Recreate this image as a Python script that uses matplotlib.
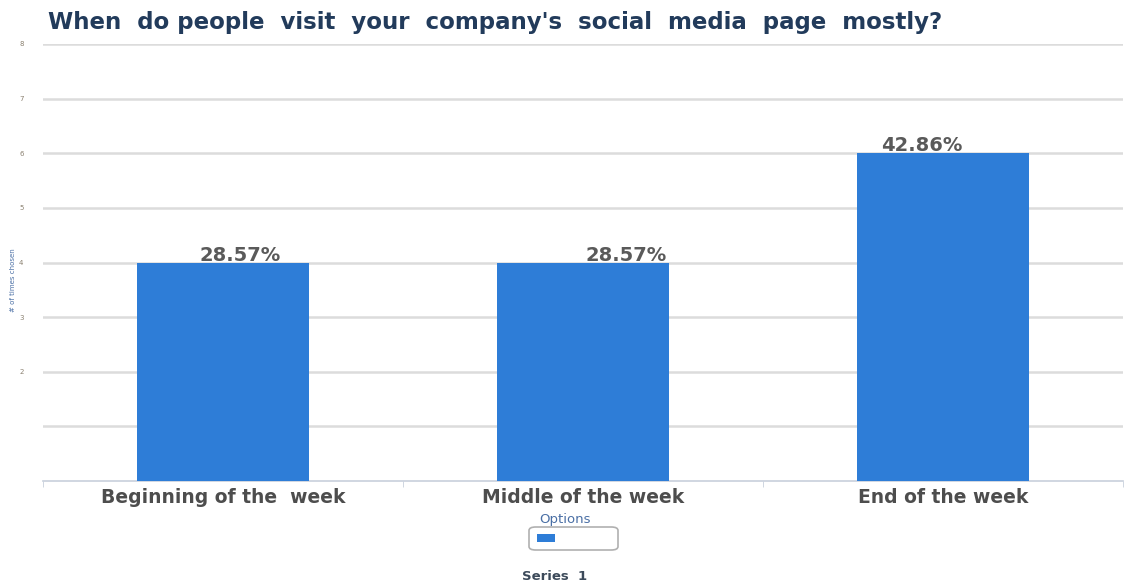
import matplotlib.pyplot as plt
from matplotlib.patches import FancyBboxPatch, Rectangle

# ----------------------------------------------------------------------------------------------------------------------
#  DATA
# ----------------------------------------------------------------------------------------------------------------------
categories = ['Beginning of the  week', 'Middle of the week', 'End of the week']
times_chosen = [4, 4, 6]
percent_labels = ['28.57%', '28.57%', '42.86%']
y_ticks = [2, 3, 4, 5, 6, 7, 8]

title = "When  do people  visit  your  company's  social  media  page  mostly?"

# ----------------------------------------------------------------------------------------------------------------------
#  PLOT
# ----------------------------------------------------------------------------------------------------------------------
plt.rcParams['font.family'] = ['DejaVu Sans']

fig = plt.figure(figsize=(11.27, 5.84), dpi=100)
ax = fig.add_axes([43/1127, 1 - 481/584, 1080/1127, 437/584])

bar_color = '#2e7dd7'
x = range(len(categories))
ax.bar(x, times_chosen, width=0.48, color=bar_color, zorder=3)

# value labels sit a little off-centre above each bar
label_shift = [0.047, 0.12, -0.058]
for xi, val, lab, dx in zip(x, times_chosen, percent_labels, label_shift):
    ax.text(xi + dx, val - 0.04, lab, ha='center', va='bottom', fontsize=14,
            fontweight='bold', color='#5a5a5a', zorder=4)

ax.set_xlim(-0.5, len(categories) - 0.5)
ax.set_ylim(0, 8)

# horizontal grid
for g in range(1, 9):
    ax.axhline(g, color='#dcdcdc', linewidth=1.8, zorder=1)

ax.set_yticks(y_ticks)
ax.set_yticklabels([str(t) for t in y_ticks], fontsize=5, color='#8a8070')
ax.tick_params(axis='y', length=0, pad=14)

ax.set_xticks([i - 0.5 for i in range(len(categories))] + [len(categories) - 0.5], minor=True)
ax.set_xticks(list(x))
ax.set_xticklabels(categories, fontsize=13.5, fontweight='bold', color='#4d4d4d')
ax.tick_params(axis='x', which='major', length=0, pad=5)
ax.tick_params(axis='x', which='minor', length=4, color='#c8d0dc')

for side in ['top', 'right', 'left']:
    ax.spines[side].set_visible(False)
ax.spines['bottom'].set_color('#c8d0dc')
ax.spines['bottom'].set_linewidth(1.2)

# titles and axis names
fig.text(48/1127, 1 - 23/584, title, fontsize=16.5, fontweight='bold',
         color='#223b5b', va='center', ha='left')
fig.text(13/1127, 1 - 280/584, '# of times chosen', rotation=90, fontsize=5,
         color='#4a6fa5', va='center', ha='center')
fig.text(565/1127, 1 - 520/584, 'Options', fontsize=9.5, color='#4a6fa5',
         va='center', ha='center')

# legend box
legend_box = FancyBboxPatch((529/1127, 1 - 550/584), 89/1127, 23/584,
                            boxstyle='round,pad=0,rounding_size=0.006',
                            transform=fig.transFigure, facecolor='white',
                            edgecolor='#b0b0b0', linewidth=1.2)
fig.patches.append(legend_box)
fig.patches.append(Rectangle((537/1127, 1 - 542/584), 18/1127, 8/584,
                             transform=fig.transFigure, facecolor=bar_color,
                             edgecolor='none'))
fig.text(555/1127, 1 - 577/584, 'Series  1', fontsize=9.5, fontweight='bold',
         color='#3c4a5a', va='center', ha='center')

fig.savefig('out.png', dpi=100)
